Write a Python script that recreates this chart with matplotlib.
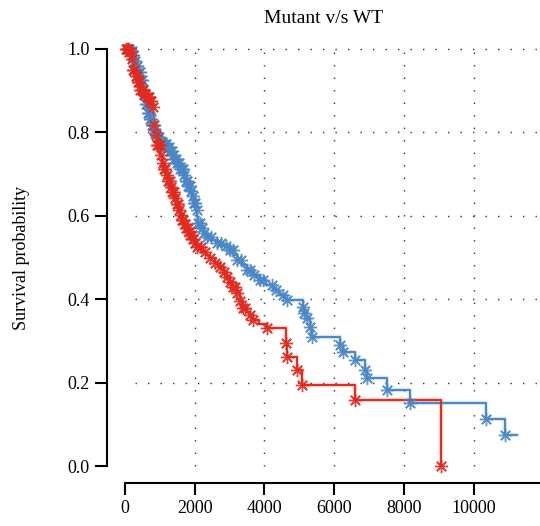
import numpy as np
import matplotlib
matplotlib.use('Agg')
from matplotlib import pyplot as plt

# Kaplan-Meier steps: time (days) and survival after the drop at that time
wt_times = [0, 143, 200, 260, 320, 380, 430, 490, 545, 600, 660, 720, 775, 820, 861,
            930, 1004, 1100, 1205, 1280, 1348, 1420, 1492, 1580, 1664, 1740, 1807,
            1870, 1922, 1980, 2037, 2070, 2094, 2160, 2238, 2353, 2500, 2640, 2820,
            3012, 3110, 3213, 3350, 3500, 3690, 3873, 4060, 4246, 4420, 4590, 4648,
            5107, 5150, 5222, 5308, 5365, 6168, 6254, 6600, 6886, 6943, 7517, 8177,
            10357, 10902, 11247]
wt_surv = [1.0, 0.995, 0.985, 0.972, 0.958, 0.944, 0.926, 0.905, 0.890, 0.868, 0.847,
           0.832, 0.818, 0.806, 0.799, 0.788, 0.777, 0.771, 0.765, 0.755, 0.746, 0.737,
           0.727, 0.712, 0.698, 0.684, 0.671, 0.659, 0.647, 0.630, 0.614, 0.598, 0.583,
           0.570, 0.559, 0.550, 0.542, 0.535, 0.527, 0.518, 0.506, 0.494, 0.482, 0.470,
           0.458, 0.446, 0.434, 0.422, 0.410, 0.403, 0.397, 0.381, 0.367, 0.355, 0.333,
           0.310, 0.290, 0.273, 0.254, 0.230, 0.211, 0.182, 0.151, 0.113, 0.074, 0.074]
wt_censor = [90, 125, 160, 190, 215, 245, 270, 300, 335, 360, 395, 420, 450, 485, 510,
             545, 575, 600, 635, 660, 695, 720, 750, 780, 815, 840, 870, 905, 940, 985,
             1020, 1065, 1100, 1140, 1185, 1220, 1265, 1300, 1340, 1385, 1420, 1460,
             1505, 1540, 1580, 1625, 1660, 1700, 1745, 1780, 1820, 1865, 1900, 1940,
             1985, 2020, 2060, 2100, 2150, 2200, 2280, 2353, 2480, 2640, 2750, 2900,
             3012, 3100, 3213, 3330, 3500, 3586, 3700, 3873, 3959, 4217, 4330, 4533,
             4648, 5107, 5150, 5222, 5308, 5365, 6168, 6254, 6600, 6886, 6943, 7517,
             8177, 10357, 10902]

mut_times = [0, 100, 170, 230, 290, 344, 430, 520, 603, 717, 790, 810, 830, 861, 918,
             1004, 1062, 1120, 1176, 1235, 1291, 1350, 1406, 1465, 1521, 1580, 1635,
             1690, 1750, 1810, 1865, 1940, 2008, 2066, 2200, 2330, 2439, 2580, 2726,
             2830, 2926, 3010, 3098, 3213, 3299, 3380, 3500, 3586, 3672, 3850, 4074,
             4619, 4648, 4935, 5078, 6600, 9066]
mut_surv = [1.0, 0.993, 0.975, 0.950, 0.935, 0.921, 0.902, 0.893, 0.885, 0.876, 0.862,
            0.840, 0.818, 0.794, 0.770, 0.746, 0.727, 0.712, 0.698, 0.683, 0.669, 0.656,
            0.643, 0.628, 0.614, 0.602, 0.590, 0.580, 0.571, 0.562, 0.554, 0.544, 0.535,
            0.525, 0.514, 0.506, 0.499, 0.488, 0.477, 0.465, 0.453, 0.442, 0.430, 0.415,
            0.395, 0.380, 0.370, 0.362, 0.350, 0.340, 0.331, 0.295, 0.261, 0.230, 0.194,
            0.158, 0.0]
mut_censor = [30, 60, 95, 130, 165, 200, 235, 270, 305, 340, 375, 410, 445, 480, 515,
              550, 585, 620, 655, 690, 725, 760, 800, 840, 880, 920, 960, 1000, 1040,
              1080, 1120, 1160, 1200, 1240, 1280, 1320, 1360, 1400, 1440, 1480, 1520,
              1560, 1600, 1640, 1680, 1720, 1760, 1800, 1840, 1880, 1920, 1960, 2008,
              2066, 2180, 2300, 2439, 2580, 2726, 2830, 2926, 3010, 3098, 3160, 3213,
              3299, 3380, 3450, 3586, 3672, 4074, 4619, 4648, 4935, 5078, 6600, 9066]

x_ticks = [0, 2000, 4000, 6000, 8000, 10000]
y_ticks = [0.0, 0.2, 0.4, 0.6, 0.8, 1.0]

RED = '#e12a1f'
BLUE = '#4a87c6'

plt.rcParams['font.family'] = ['Liberation Serif', 'DejaVu Serif']

fig = plt.figure(figsize=(5.4, 5.26), dpi=100)
ax = fig.add_axes([0.198, 0.0817, 0.802, 0.8423])


def surv_at(times, surv, t):
    idx = np.searchsorted(times, t, side='right') - 1
    return np.asarray(surv)[idx]


# dotted reference grid
for yv in y_ticks[1:]:
    ax.plot([300, 12500], [yv, yv], color='#333333', lw=1.0, linestyle=(0, (1, 8)), zorder=1)
for xv in x_ticks[1:]:
    ax.plot([xv, xv], [0, 1], color='#333333', lw=1.0, linestyle=(0, (1, 8)), zorder=1)

for times, surv, cens, col in [(wt_times, wt_surv, wt_censor, BLUE),
                               (mut_times, mut_surv, mut_censor, RED)]:
    ax.step(times, surv, where='post', color=col, lw=3.2, alpha=0.22, zorder=2)
    ax.step(times, surv, where='post', color=col, lw=1.4, zorder=3)
    cy = surv_at(times, surv, cens)
    ax.plot(cens, cy, linestyle='none', marker=(8, 2, 0), ms=9.5, mew=1.0,
            color=col, alpha=0.9, zorder=4)

ax.set_xlim(-516, 11906)
ax.set_ylim(-0.0408, 1.0216)

for side in ['top', 'right']:
    ax.spines[side].set_visible(False)
ax.spines['left'].set_bounds(0, 1)
ax.spines['bottom'].set_bounds(0, 11906)
ax.spines['left'].set_linewidth(1.5)
ax.spines['bottom'].set_linewidth(1.5)

ax.set_xticks(x_ticks)
ax.set_xticklabels([str(v) for v in x_ticks])
ax.set_yticks(y_ticks)
ax.set_yticklabels([f'{v:.1f}' for v in y_ticks])
ax.tick_params(axis='both', length=8.5, width=1.5, labelsize=13, direction='out', pad=4)

ax.set_title('Mutant v/s WT', fontsize=14, pad=12)
fig.text(22 / 540, 1 - 258 / 526, 'Survival probability', rotation=90,
         ha='center', va='center', fontsize=13)

fig.savefig('out.png', dpi=100, facecolor='w')
